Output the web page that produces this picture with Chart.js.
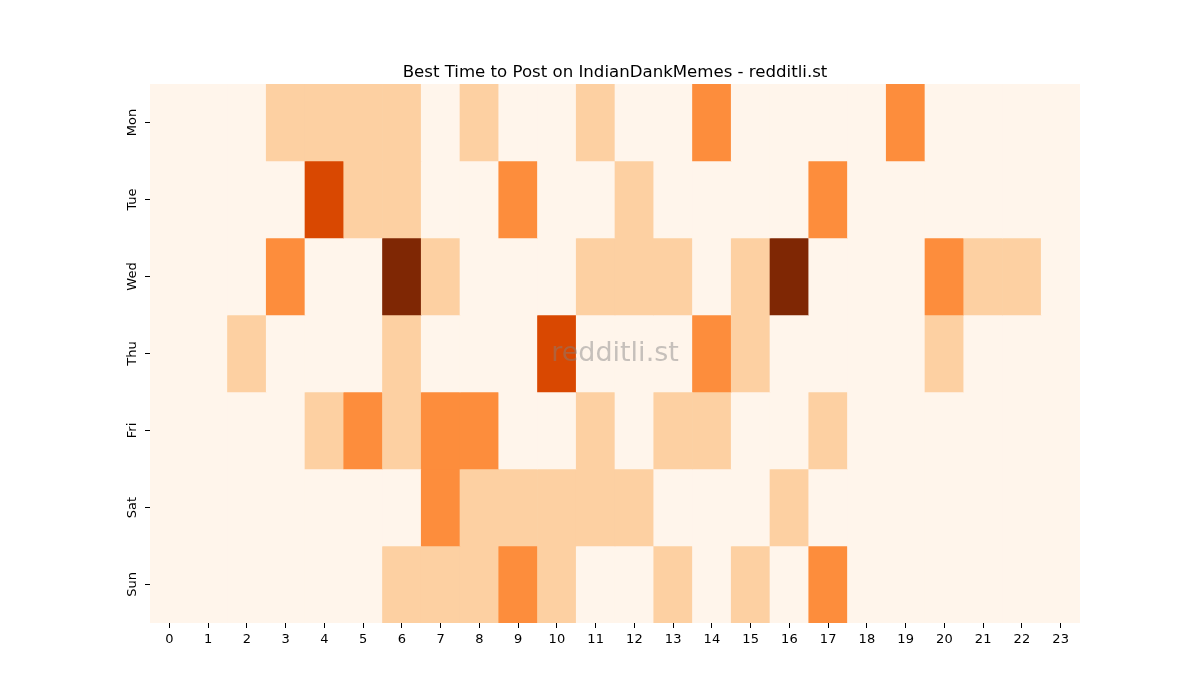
<!DOCTYPE html>
<html>
<head>
<meta charset="utf-8">
<title>Best Time to Post on IndianDankMemes</title>
<script src="https://cdn.jsdelivr.net/npm/chart.js@4/dist/chart.umd.min.js"></script>
<style>
  html, body { margin: 0; padding: 0; background: #fff; }
  #wrap { width: 1200px; height: 700px; }
</style>
</head>
<body>
<div id="wrap"><canvas id="heatmap" width="1200" height="700"></canvas></div>
<script>
// Hours on the x axis, days on the y axis
const hours = ["0","1","2","3","4","5","6","7","8","9","10","11","12","13","14","15","16","17","18","19","20","21","22","23"];
const days = ["Mon", "Tue", "Wed", "Thu", "Fri", "Sat", "Sun"];

// Post activity per day, one value per hour (0 = lowest, 4 = highest)
const mon = [0,0,0,1,1,1,1,0,1,0,0,1,0,0,2,0,0,0,0,2,0,0,0,0];
const tue = [0,0,0,0,3,1,1,0,0,2,0,0,1,0,0,0,0,2,0,0,0,0,0,0];
const wed = [0,0,0,2,0,0,4,1,0,0,0,1,1,1,0,1,4,0,0,0,2,1,1,0];
const thu = [0,0,1,0,0,0,1,0,0,0,3,0,0,0,2,1,0,0,0,0,1,0,0,0];
const fri = [0,0,0,0,1,2,1,2,2,0,0,1,0,1,1,0,0,1,0,0,0,0,0,0];
const sat = [0,0,0,0,0,0,0,2,1,1,1,1,1,0,0,0,1,0,0,0,0,0,0,0];
const sun = [0,0,0,0,0,0,1,1,1,2,1,0,0,1,0,1,0,2,0,0,0,0,0,0];
const rows = [mon, tue, wed, thu, fri, sat, sun];

// Colours of the "Oranges" colour map for each level
const levelColors = ["#fff5eb", "#fdd0a2", "#fd8d3c", "#d94801", "#7f2704"];

// Each day is one stacked band of height 1
const datasets = rows.map(function(row, i) {
  return {
    label: days[i],
    data: row.map(function() { return 1; }),
    levels: row,
    backgroundColor: row.map(function(v) { return levelColors[v]; }),
    borderWidth: 0,
    barPercentage: 1.0,
    categoryPercentage: 1.0
  };
});

// Title and watermark, both centred over the plot area
const texts = {
  id: "texts",
  afterDatasetsDraw: function(chart) {
    const area = chart.chartArea;
    const cx = (area.left + area.right) / 2;
    const ctx = chart.ctx;
    ctx.save();
    ctx.textAlign = "center";
    ctx.textBaseline = "middle";
    ctx.font = "27px 'DejaVu Sans'";
    ctx.fillStyle = "rgba(128, 128, 128, 0.45)";
    ctx.fillText("redditli.st", cx, (area.top + area.bottom) / 2);
    ctx.font = "16.6px 'DejaVu Sans'";
    ctx.fillStyle = "#000";
    ctx.textBaseline = "alphabetic";
    ctx.fillText("Best Time to Post on IndianDankMemes - redditli.st", cx, area.top - 7);
    ctx.restore();
  }
};

// Day labels, rotated and centred on their ticks
const dayLabels = {
  id: "dayLabels",
  afterDraw: function(chart) {
    const y = chart.scales.y;
    const ctx = chart.ctx;
    ctx.save();
    ctx.font = "13px 'DejaVu Sans'";
    ctx.fillStyle = "#000";
    ctx.textAlign = "center";
    ctx.textBaseline = "middle";
    days.forEach(function(d, i) {
      ctx.save();
      ctx.translate(y.left + y.width - 17, y.getPixelForValue(i + 0.5));
      ctx.rotate(-Math.PI / 2);
      ctx.fillText(d, 0, 0);
      ctx.restore();
    });
    ctx.restore();
  }
};

Chart.defaults.font.family = "'DejaVu Sans', sans-serif";
Chart.defaults.color = "#000";

new Chart(document.getElementById("heatmap"), {
  type: "bar",
  data: { labels: hours, datasets: datasets },
  options: {
    responsive: false,
    animation: false,
    layout: { padding: { left: 100, right: 120, top: 84, bottom: 40 } },
    plugins: {
      legend: { display: false },
      tooltip: { enabled: false },
      title: { display: false }
    },
    scales: {
      x: {
        stacked: true,
        grid: { offset: false, drawOnChartArea: false, drawTicks: true, tickLength: 5, color: "#000" },
        border: { display: false },
        ticks: { font: { size: 13 }, color: "#000", maxRotation: 0, minRotation: 0, padding: 4, autoSkip: false },
        afterFit: function(scale) { scale.height = 37; }
      },
      y: {
        stacked: true,
        min: 0,
        max: 7,
        reverse: true,
        grid: { drawOnChartArea: false, drawTicks: true, tickLength: 5, color: "#000" },
        border: { display: false },
        afterBuildTicks: function(scale) {
          scale.ticks = days.map(function(d, i) { return { value: i + 0.5 }; });
        },
        ticks: { display: false },
        afterFit: function(scale) { scale.width = 50; }
      }
    }
  },
  plugins: [texts, dayLabels]
});
</script>
</body>
</html>
